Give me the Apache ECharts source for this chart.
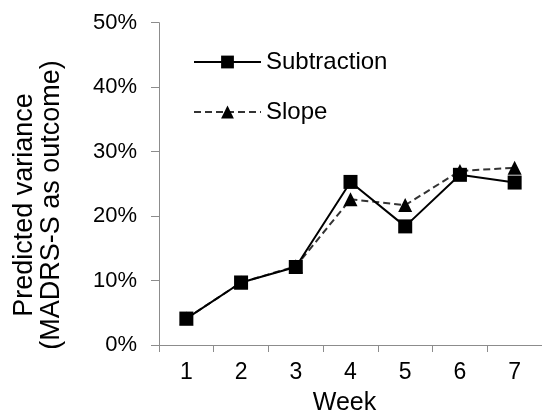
<!DOCTYPE html>
<html>
<head>
<meta charset="utf-8">
<script src="https://cdn.jsdelivr.net/npm/echarts@6/dist/echarts.min.js"></script>
<style>
html,body{margin:0;padding:0;background:#fff;}
#chart{width:542px;height:415px;}
</style>
</head>
<body>
<div id="chart"></div>
<script>
const weeks = ['1','2','3','4','5','6','7'];
const subtraction = [0.041, 0.097, 0.121, 0.253, 0.184, 0.264, 0.252];
const slope = [0.041, 0.097, 0.122, 0.226, 0.217, 0.270, 0.275];
const yTitle = 'Predicted variance\n(MADRS-S as outcome)';
const xTitle = 'Week';
const FONT = 'Liberation Sans, Arial, sans-serif';

const chart = echarts.init(document.getElementById('chart'));
chart.setOption({
  animation: false,
  backgroundColor: '#fff',
  grid: {left: 159, right: 0, top: 22.7, bottom: 70, containLabel: false, outerBoundsMode: 'none'},
  legend: {
    orient: 'vertical',
    left: 193,
    top: 50,
    padding: 0,
    itemWidth: 67,
    itemHeight: 16,
    itemGap: 26,
    data: ['Subtraction', 'Slope'],
    textStyle: {fontFamily: FONT, fontSize: 24, color: '#000', lineHeight: 24}
  },
  graphic: [{
    type: 'text',
    x: 38, y: 205,
    rotation: Math.PI / 2,
    style: {
      text: yTitle,
      fontFamily: FONT, fontSize: 27, lineHeight: 27,
      fill: '#000', align: 'center', verticalAlign: 'middle'
    }
  }],
  xAxis: {
    type: 'category',
    data: weeks,
    boundaryGap: true,
    name: xTitle,
    nameLocation: 'middle',
    nameGap: 46,
    nameTextStyle: {fontFamily: FONT, fontSize: 25, color: '#000', padding: [0, 12, 0, 0]},
    axisLine: {lineStyle: {color: '#8c8c8c', width: 1}},
    axisTick: {show: true, length: 7, lineStyle: {color: '#8c8c8c'}},
    axisLabel: {fontFamily: FONT, fontSize: 23, color: '#000', margin: 16},
    splitLine: {show: false}
  },
  yAxis: {
    type: 'value',
    min: 0, max: 0.5, interval: 0.1,
    axisLine: {show: true, lineStyle: {color: '#8c8c8c', width: 1}},
    axisTick: {show: true, length: 8, lineStyle: {color: '#8c8c8c'}},
    axisLabel: {
      fontFamily: FONT, fontSize: 22, color: '#000', margin: 22,
      formatter: v => Math.round(v * 100) + '%'
    },
    splitLine: {show: false}
  },
  series: [
    {
      name: 'Slope',
      type: 'line',
      data: slope,
      symbol: 'triangle',
      symbolSize: 14,
      itemStyle: {color: '#000'},
      lineStyle: {color: '#333', width: 2, type: [7, 4]},
      z: 2
    },
    {
      name: 'Subtraction',
      type: 'line',
      data: subtraction,
      symbol: 'rect',
      symbolSize: 14,
      itemStyle: {color: '#000'},
      lineStyle: {color: '#000', width: 2},
      z: 3
    }
  ]
});
</script>
</body>
</html>
